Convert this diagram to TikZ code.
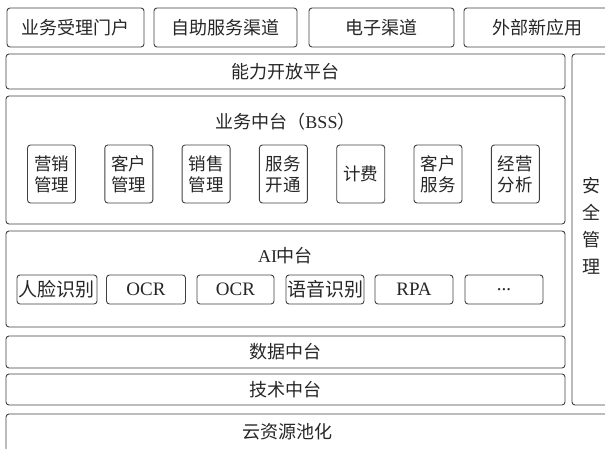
\documentclass[tikz,border=0pt]{standalone}
\usepackage{fontspec}
\setmainfont{Noto Sans CJK SC}
\newfontfamily\lat{Liberation Serif}
\tikzset{
  box/.style={draw=black!75, line width=0.9pt, rounded corners=3pt, inner sep=0pt, font=\fontsize{18}{20}\selectfont, text=black!85},
  lbl/.style={inner sep=0pt, font=\fontsize{18}{20}\selectfont, text=black!85},
  inbox/.style={box, font=\fontsize{17.5}{21}\selectfont, align=center},
  aibox/.style={box, minimum height=29pt, font=\fontsize{19}{21}\selectfont},
  ailat/.style={aibox, font=\lat\fontsize{19}{21}\selectfont},
}
\begin{document}
\begin{tikzpicture}[x=1pt,y=-1pt]
\useasboundingbox (0,0) rectangle (605,448);
% top row
\node[box, minimum width=137pt, minimum height=39pt] (p1) at (75.5,27.5) {业务受理门户};
\node[box, minimum width=143pt, minimum height=39pt] (p2) at (225.5,27.5) {自助服务渠道};
\node[box, minimum width=145pt, minimum height=39pt] (p3) at (381.5,27.5) {电子渠道};
\node[box, minimum width=146pt, minimum height=39pt] (p4) at (537,27.5) {外部新应用};
% capability platform
\node[box, minimum width=559pt, minimum height=35pt] (cap) at (285.5,71.5) {能力开放平台};
% security
\node[box, minimum width=50pt, minimum height=351pt] (sec) at (597,229.5) {};
\node[font=\fontsize{18}{27}\selectfont, align=center, text=black!85] (sect) at (591,226) {安\\全\\管\\理};
% BSS
\node[box, minimum width=559pt, minimum height=128pt] (bss) at (285.5,160) {};
\node[lbl] (bsst) at (285.5,122) {业务中台（{\lat BSS}）};
\foreach \t [count=\i from 0] in {营销\\管理,客户\\管理,销售\\管理,服务\\开通,计费,客户\\服务,经营\\分析}{
  \node[inbox, minimum width=48pt, minimum height=58pt] (b\i) at ({51.5+77.3*\i},174) {\t};
}
% AI
\node[box, minimum width=559pt, minimum height=96pt] (ai) at (285.5,279) {};
\node[lbl] (ait) at (285.5,256) {{\lat AI}中台};
\node[aibox, minimum width=80pt] (a0) at (57,289.5) {人脸识别};
\node[ailat, minimum width=79pt] (a1) at (146,289.5) {OCR};
\node[ailat, minimum width=77pt] (a2) at (235.5,289.5) {OCR};
\node[aibox, minimum width=78pt] (a3) at (325,289.5) {语音识别};
\node[ailat, minimum width=78pt] (a4) at (414,289.5) {RPA};
\node[ailat, minimum width=78pt] (a5) at (504,289.5) {...};
% data / tech
\node[box, minimum width=559pt, minimum height=32pt] (data) at (285.5,352) {数据中台};
\node[box, minimum width=559pt, minimum height=31pt] (tech) at (285.5,389.5) {技术中台};
% cloud
\node[box, minimum width=620pt, minimum height=46pt] (cloud) at (316,437) {};
\node[lbl] (cloudt) at (287,432) {云资源池化};
\end{tikzpicture}
\end{document}
